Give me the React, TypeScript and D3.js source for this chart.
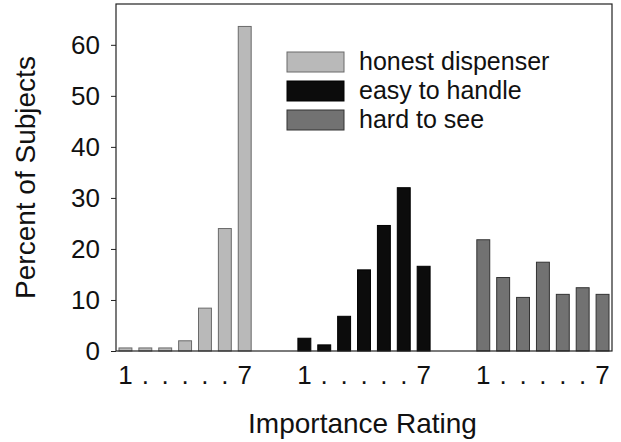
import { useEffect, useRef } from 'react';
import * as d3 from 'd3';

const ratings = ['1', '2', '3', '4', '5', '6', '7'];
const honestDispenser = [0.6, 0.6, 0.6, 2.0, 8.4, 24.0, 63.6];
const easyToHandle = [2.5, 1.2, 6.8, 15.9, 24.6, 32.0, 16.6];
const hardToSee = [21.8, 14.4, 10.5, 17.4, 11.1, 12.4, 11.1];
const yTicks = [0, 10, 20, 30, 40, 50, 60];
const ratingLabels = ['1', '.', '.', '.', '.', '.', '7'];

const series = [
  { key: 'honest', label: 'honest dispenser', values: honestDispenser, fill: '#b9b9b9', stroke: '#6a6a6a' },
  { key: 'easy', label: 'easy to handle', values: easyToHandle, fill: '#0c0c0c', stroke: '#000' },
  { key: 'hard', label: 'hard to see', values: hardToSee, fill: '#727272', stroke: '#333' },
];

export default function App() {
  const svgRef = useRef<SVGSVGElement>(null);

  useEffect(() => {
    if (!svgRef.current) return;
    const width = 621;
    const height = 442;
    const plot = { left: 116, right: 612, top: 4, bottom: 351 };
    const font = '"Liberation Sans", Arial, sans-serif';

    d3.select(svgRef.current).selectAll('*').remove();
    const svg = d3.select(svgRef.current)
      .attr('width', width)
      .attr('height', height)
      .attr('font-family', font);

    // slots: 7 bars, 2 empty, 7 bars, 2 empty, 7 bars
    const slots: string[] = [];
    series.forEach((s, i) => {
      ratings.forEach(r => slots.push(`${s.key}-${r}`));
      if (i < series.length - 1) slots.push(`gap${i}a`, `gap${i}b`);
    });

    const x = d3.scaleBand<string>()
      .domain(slots)
      .range([plot.left, plot.right])
      .paddingInner(0.35)
      .paddingOuter(0.15);

    const y = d3.scaleLinear()
      .domain([0, 68])
      .range([plot.bottom, plot.top]);

    // bars
    series.forEach(s => {
      svg.append('g')
        .selectAll('rect')
        .data(s.values)
        .join('rect')
        .attr('x', (d, i) => x(`${s.key}-${ratings[i]}`)!)
        .attr('y', d => y(d))
        .attr('width', x.bandwidth())
        .attr('height', d => y(0) - y(d))
        .attr('fill', s.fill)
        .attr('stroke', s.stroke)
        .attr('stroke-width', 1);
    });

    // frame
    svg.append('rect')
      .attr('x', plot.left)
      .attr('y', plot.top)
      .attr('width', plot.right - plot.left)
      .attr('height', plot.bottom - plot.top)
      .attr('fill', 'none')
      .attr('stroke', '#222')
      .attr('stroke-width', 1.2);

    // y axis
    const yAxis = svg.append('g')
      .attr('transform', `translate(${plot.left},0)`)
      .call(d3.axisLeft(y).tickValues(yTicks).tickSize(5).tickPadding(11));
    yAxis.select('.domain').remove();
    yAxis.selectAll('line').attr('stroke', '#222');
    yAxis.selectAll('text')
      .attr('font-size', 26)
      .attr('font-family', font)
      .attr('fill', '#111');

    // rating labels under each group
    series.forEach(s => {
      svg.append('g')
        .selectAll('text')
        .data(ratingLabels)
        .join('text')
        .attr('x', (d, i) => x(`${s.key}-${ratings[i]}`)! + x.bandwidth() / 2)
        .attr('y', 384)
        .attr('text-anchor', 'middle')
        .attr('font-size', 26)
        .attr('fill', '#111')
        .text(d => d);
    });

    // axis titles
    svg.append('text')
      .attr('transform', 'translate(35,177.5) rotate(-90)')
      .attr('text-anchor', 'middle')
      .attr('font-size', 28)
      .attr('fill', '#111')
      .text('Percent of Subjects');

    svg.append('text')
      .attr('x', 362.5)
      .attr('y', 433)
      .attr('text-anchor', 'middle')
      .attr('font-size', 28)
      .attr('fill', '#111')
      .text('Importance Rating');

    // legend
    const legend = svg.append('g')
      .selectAll('g')
      .data(series)
      .join('g')
      .attr('transform', (d, i) => `translate(287,${52 + i * 29})`);

    legend.append('rect')
      .attr('width', 57)
      .attr('height', 20)
      .attr('fill', d => d.fill)
      .attr('stroke', d => d.stroke);

    legend.append('text')
      .attr('x', 72)
      .attr('y', 18)
      .attr('font-size', 25)
      .attr('fill', '#111')
      .text(d => d.label);
  }, []);

  return (
    <svg ref={svgRef} style={{ position: 'absolute', left: 0, top: 0, background: '#fff' }} />
  );
}
